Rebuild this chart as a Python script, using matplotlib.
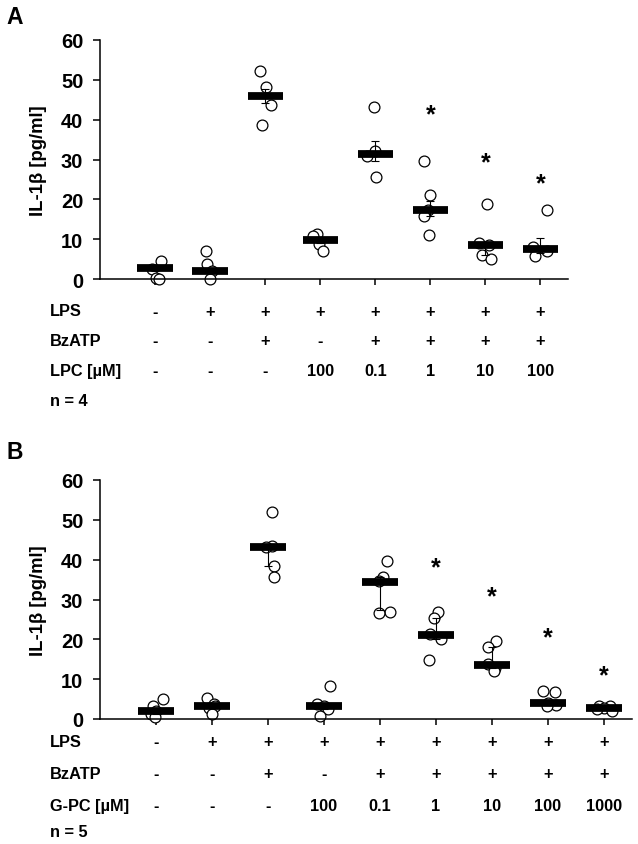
import matplotlib
matplotlib.use("Agg")
import matplotlib.pyplot as plt
import matplotlib.transforms as mtransforms

plt.rcParams['font.family'] = ['Liberation Sans', 'DejaVu Sans']
plt.rcParams['font.weight'] = 'bold'

# ---- panel A : LPC, n = 4 ----
a_points = [
    [4.5, 2.6, 0.3, 0.0],
    [7.0, 3.8, 2.0, 0.0],
    [52.2, 48.2, 43.7, 38.7],
    [11.3, 10.9, 8.8, 7.1],
    [43.3, 32.2, 31.0, 25.5],
    [29.7, 21.1, 17.3, 15.9, 11.0],
    [18.8, 9.0, 8.5, 6.0, 4.9],
    [17.3, 8.0, 7.1, 5.7],
]
a_jitter = [
    [0.11, -0.05, 0.02, 0.07],
    [-0.07, -0.06, 0.03, -0.01],
    [-0.10, 0.01, 0.11, -0.05],
    [-0.05, -0.13, -0.02, 0.05],
    [-0.03, 0.00, -0.15, 0.02],
    [-0.12, 0.00, -0.04, -0.12, -0.03],
    [0.02, -0.12, 0.06, -0.06, 0.11],
    [0.12, -0.13, 0.11, -0.10],
]
a_median = [2.7, 2.1, 45.9, 9.8, 31.5, 17.3, 8.5, 7.5]
a_err_lo = [2.0, 1.5, 44.3, 9.0, 29.5, 15.9, 6.0, 6.5]
a_err_hi = [3.2, 2.6, 47.6, 10.6, 34.7, 19.7, 9.0, 10.3]
a_star = [None, None, None, None, None, 41.4, 29.3, 24.0]
a_lps = ['-', '+', '+', '+', '+', '+', '+', '+']
a_bzatp = ['-', '-', '+', '-', '+', '+', '+', '+']
a_lpc = ['-', '-', '-', '100', '0.1', '1', '10', '100']

# ---- panel B : G-PC, n = 5 ----
b_points = [
    [5.0, 3.3, 1.9, 1.2, 0.5],
    [5.2, 3.8, 3.3, 2.7, 1.3],
    [51.9, 43.5, 43.1, 38.5, 35.6],
    [8.2, 3.8, 3.2, 2.5, 0.8],
    [39.7, 35.6, 34.6, 26.9, 26.5],
    [26.8, 25.4, 21.3, 20.1, 14.9],
    [19.7, 18.2, 13.8, 12.9, 12.0],
    [7.1, 6.7, 3.9, 3.6, 3.3],
    [3.3, 3.2, 2.7, 2.4, 2.1],
]
b_jitter = [
    [0.13, -0.06, 0.00, -0.09, -0.02],
    [-0.09, 0.04, 0.05, -0.05, 0.00],
    [0.08, 0.08, -0.03, 0.11, 0.11],
    [0.11, -0.12, 0.00, 0.07, -0.07],
    [0.12, 0.06, -0.02, 0.17, -0.01],
    [0.04, -0.03, -0.11, 0.09, -0.12],
    [0.08, -0.07, -0.07, 0.05, 0.03],
    [-0.09, 0.12, 0.00, 0.14, -0.02],
    [-0.09, 0.11, 0.00, -0.13, 0.14],
]
b_median = [1.9, 3.3, 43.1, 3.2, 34.5, 21.2, 13.6, 3.9, 2.7]
b_err_lo = [1.2, 2.7, 38.5, 2.5, 27.4, 20.1, 12.9, 3.6, 2.4]
b_err_hi = [2.5, 3.8, 43.5, 3.8, 35.6, 25.4, 18.2, 4.5, 3.2]
b_star = [None, None, None, None, None, 38.1, 30.7, 20.5, 10.9]
b_lps = ['-', '+', '+', '+', '+', '+', '+', '+', '+']
b_bzatp = ['-', '-', '+', '-', '+', '+', '+', '+', '+']
b_gpc = ['-', '-', '-', '100', '0.1', '1', '10', '100', '1000']

W, H = 638, 845
TXT = 11.8
fig = plt.figure(figsize=(W / 100, H / 100), dpi=100)


def draw_panel(rect, points, jitter, median, lo, hi, stars, rows, row_y, letter, letter_y):
    ax = fig.add_axes(rect)
    n = len(median)
    xs = list(range(1, n + 1))

    for x, vals, jit in zip(xs, points, jitter):
        ax.plot([x + j for j in jit], vals, 'o', ms=7.8, mfc='white', mec='black',
                mew=0.9, zorder=2, clip_on=False)

    ax.errorbar(xs, median, yerr=[[m - l for m, l in zip(median, lo)],
                                  [h - m for m, h in zip(median, hi)]],
                fmt='none', ecolor='black', elinewidth=0.8, capsize=3.2,
                capthick=0.8, zorder=3)
    ax.hlines(median, [x - 0.32 for x in xs], [x + 0.32 for x in xs],
              colors='black', linewidth=5.6, zorder=4)

    for x, s in zip(xs, stars):
        if s is not None:
            ax.text(x, s, '*', ha='center', va='center', fontsize=18,
                    fontweight='bold', zorder=5)

    ax.set_xlim(0, n + 0.5)
    ax.set_ylim(0, 60)
    ax.set_yticks(range(0, 61, 10))
    ax.set_xticks(xs)
    ax.set_xticklabels([])
    for side in ('top', 'right'):
        ax.spines[side].set_visible(False)
    for side in ('left', 'bottom'):
        ax.spines[side].set_linewidth(1.1)
    ax.tick_params(axis='y', direction='out', length=5, width=1.1, pad=7, labelsize=14.5)
    ax.tick_params(axis='x', direction='out', length=4, width=1.1)
    for lab in ax.get_yticklabels():
        lab.set_fontweight('bold')
    ax.set_ylabel('IL-1β [pg/ml]', fontsize=13.3, fontweight='bold', labelpad=10)

    trans = mtransforms.blended_transform_factory(ax.transData, fig.transFigure)
    for (name, cells), py in zip(rows, row_y):
        fy = 1 - py / H
        fig.text(50 / W, fy, name, ha='left', va='center', fontsize=TXT, fontweight='bold')
        for x, c in zip(xs, cells):
            ax.text(x, fy, c, transform=trans, ha='center', va='center',
                    fontsize=TXT, fontweight='bold')
    fig.text(6 / W, 1 - letter_y / H, letter, ha='left', va='top', fontsize=16.5, fontweight='bold')
    return ax


ax_a = draw_panel([100 / W, 1 - 280 / H, 468 / W, 239 / H],
                  a_points, a_jitter, a_median, a_err_lo, a_err_hi, a_star,
                  [('LPS', a_lps), ('BzATP', a_bzatp), ('LPC [µM]', a_lpc)],
                  [312, 342, 372], 'A', 6)
fig.text(50 / W, 1 - 402 / H, 'n = 4', ha='left', va='center', fontsize=TXT, fontweight='bold')

ax_b = draw_panel([100 / W, 1 - 720 / H, 532 / W, 239 / H],
                  b_points, b_jitter, b_median, b_err_lo, b_err_hi, b_star,
                  [('LPS', b_lps), ('BzATP', b_bzatp), ('G-PC [µM]', b_gpc)],
                  [743, 775, 807], 'B', 441)
fig.text(50 / W, 1 - 833 / H, 'n = 5', ha='left', va='center', fontsize=TXT, fontweight='bold')

fig.savefig('out.png', dpi=100)
